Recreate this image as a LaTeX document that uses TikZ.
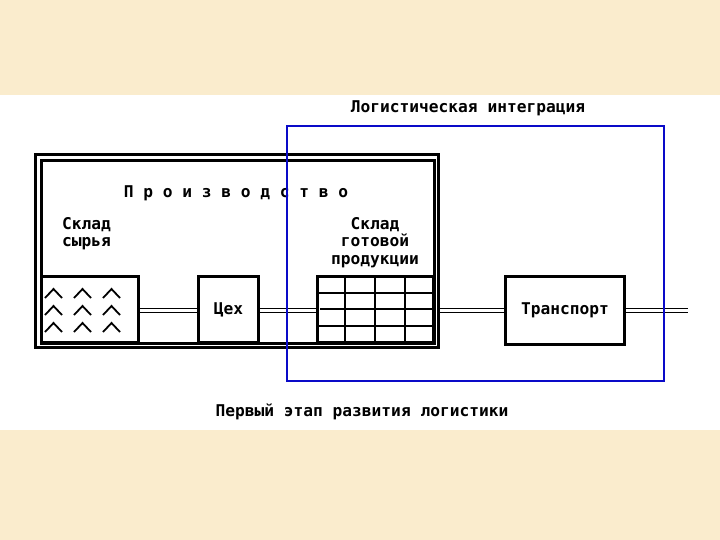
\documentclass[tikz,border=0pt]{standalone}
\usepackage{fontspec}
\setmonofont{DejaVu Sans Mono}
\newfontfamily\pixfont{DejaVu Sans Mono Bold}
\definecolor{parch}{RGB}{250,236,205}
\definecolor{lblue}{RGB}{10,10,200}
\begin{document}
\begin{tikzpicture}[x=1pt,y=-1pt,
  heavy/.style={draw=black,line width=3pt},
  boxnode/.style={heavy,fill=white,inner sep=0pt,anchor=north west},
  lbl/.style={font=\pixfont\fontsize{16.2}{17.5}\selectfont,inner sep=0pt,text=black},
  dline/.style={draw=black,line width=1.3pt,double=white,double distance=3.2pt},
  gridline/.style={draw=black,line width=1.6pt},
  chev/.style={draw=black,line width=1.8pt}]
% background
\fill[parch] (0,0) rectangle (720,540);
\fill[white] (0,95) rectangle (720,430);
\useasboundingbox (0,0) rectangle (720,540);
% outer double frame
\draw[heavy] (35.5,154.5) rectangle (438.5,347.5);
\node[boxnode,minimum width=393pt,minimum height=183pt] (prod) at (40,159) {};
% boxes
\node[boxnode,minimum width=97pt,minimum height=66pt] (raw) at (40,275) {};
\node[boxnode,minimum width=60pt,minimum height=66pt] (shop) at (197,275) {};
\node[boxnode,minimum width=116pt,minimum height=66pt] (fin) at (316,275) {};
\node[boxnode,minimum width=119pt,minimum height=68pt] (tr) at (504,275) {};
\coordinate (endR) at (688,310.5);
% connectors
\draw[dline] (raw.east |- 0,310.5) -- (shop.west |- 0,310.5);
\draw[dline] (shop.east |- 0,310.5) -- (fin.west |- 0,310.5);
\draw[dline] (440,310.5) -- (tr.west |- 0,310.5);
\draw[dline] (tr.east |- 0,310.5) -- (endR);
% grid in finished goods warehouse
\draw[gridline] (345,275) -- (345,341);
\draw[gridline,line width=2.4pt] (375,275) -- (375,341);
\draw[gridline] (405,275) -- (405,341);
\draw[gridline] (316,293) -- (432,293);
\draw[gridline,line width=1.2pt] (320,309) -- (432,309);
\draw[gridline] (316,326) -- (432,326);
\node[boxnode,fill=none,minimum width=116pt,minimum height=66pt] at (316,275) {};
% chevrons in raw warehouse
\foreach \i/\x in {0/45,1/74,2/103}{
  \foreach \j in {0,1,2}{
    \draw[chev] (\x,298+\j*17) -- (\x+8.5,289+\j*17) -- (\x+17,298+\j*17);
  }
}
% texts
\node[lbl] (tshop) at (shop.center) {Цех};
\node[lbl] (ttr) at (tr.center) {Транспорт};
\node[lbl] (tprod) at (236,193) {П р о и з в о д с т в о};
\node[lbl,anchor=north west,align=left] (traw) at (62,217) {Склад\\сырья};
\node[lbl,anchor=north,align=center] (tfin) at (375,217) {Склад\\готовой\\продукции};
% logistic integration frame
\node[draw=lblue,line width=2.2pt,inner sep=0pt,anchor=north west,minimum width=377pt,minimum height=255pt] (integ) at (286,125) {};
\node[lbl] (tinteg) at (468,108) {Логистическая интеграция};
\node[lbl] (tstage) at (362,412) {Первый этап развития логистики};
\end{tikzpicture}
\end{document}
